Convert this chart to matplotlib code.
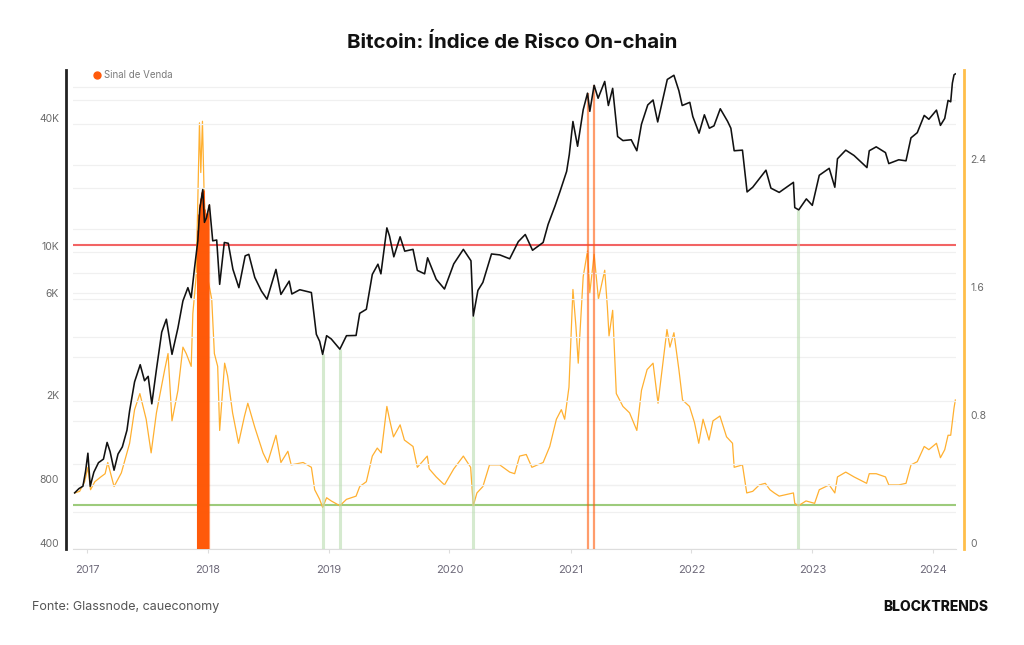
import numpy as np
import pandas as pd
import matplotlib
matplotlib.use('Agg')
import matplotlib.pyplot as plt
import matplotlib.dates as mdates
from matplotlib.lines import Line2D
from matplotlib.ticker import NullFormatter

plt.rcParams['font.family'] = ['Inter', 'DejaVu Sans']

# Bitcoin price (USD, log axis on the left)
price_dates = [
    '2016-11-25', '2016-12-08', '2016-12-20', '2016-12-28', '2017-01-04', '2017-01-11',
    '2017-01-22', '2017-02-05', '2017-02-20', '2017-03-03', '2017-03-12', '2017-03-24',
    '2017-04-05', '2017-04-18', '2017-05-02', '2017-05-10', '2017-05-25', '2017-06-11',
    '2017-06-24', '2017-07-05', '2017-07-16', '2017-07-30', '2017-08-15', '2017-08-29',
    '2017-09-15', '2017-10-03', '2017-10-18', '2017-11-02', '2017-11-12', '2017-11-22',
    '2017-12-02', '2017-12-08', '2017-12-17', '2017-12-22', '2017-12-28', '2018-01-06',
    '2018-01-16', '2018-01-28', '2018-02-06', '2018-02-20', '2018-03-04', '2018-03-18',
    '2018-04-05', '2018-04-24', '2018-05-05', '2018-05-23', '2018-06-12', '2018-06-29',
    '2018-07-26', '2018-08-10', '2018-09-04', '2018-09-12', '2018-10-06', '2018-11-10',
    '2018-11-25', '2018-12-05', '2018-12-14', '2018-12-26', '2019-01-09', '2019-02-04',
    '2019-02-24', '2019-03-25', '2019-04-05', '2019-04-25', '2019-05-13', '2019-05-30',
    '2019-06-08', '2019-06-26', '2019-07-04', '2019-07-17', '2019-08-05', '2019-08-19',
    '2019-09-13', '2019-09-26', '2019-10-18', '2019-10-27', '2019-11-22', '2019-12-17',
    '2020-01-14', '2020-02-12', '2020-03-06', '2020-03-13', '2020-03-27', '2020-04-11',
    '2020-05-07', '2020-06-01', '2020-07-01', '2020-07-27', '2020-08-17', '2020-09-08',
    '2020-10-10', '2020-10-25', '2020-11-15', '2020-11-30', '2020-12-20', '2020-12-28',
    '2021-01-08', '2021-01-22', '2021-02-08', '2021-02-21', '2021-02-28', '2021-03-13',
    '2021-03-25', '2021-04-14', '2021-04-25', '2021-05-08', '2021-05-23', '2021-06-08',
    '2021-07-03', '2021-07-20', '2021-08-03', '2021-08-22', '2021-09-07', '2021-09-21',
    '2021-10-20', '2021-11-09', '2021-11-24', '2021-12-04', '2021-12-27', '2022-01-05',
    '2022-01-24', '2022-02-09', '2022-02-24', '2022-03-10', '2022-03-29', '2022-04-20',
    '2022-04-30', '2022-05-10', '2022-06-04', '2022-06-18', '2022-07-05', '2022-08-14',
    '2022-08-29', '2022-09-23', '2022-11-05', '2022-11-09', '2022-11-21', '2022-12-14',
    '2023-01-01', '2023-01-22', '2023-02-21', '2023-03-10', '2023-03-18', '2023-04-12',
    '2023-05-07', '2023-06-15', '2023-06-22', '2023-07-13', '2023-08-10', '2023-08-20',
    '2023-09-19', '2023-10-11', '2023-10-26', '2023-11-14', '2023-12-05', '2023-12-19',
    '2024-01-11', '2024-01-23', '2024-02-05', '2024-02-15', '2024-02-23', '2024-02-28',
    '2024-03-04', '2024-03-08',
]
price_values = [
    735, 770, 790, 930, 1130, 790,
    920, 1020, 1060, 1270, 1150, 940,
    1120, 1210, 1450, 1790, 2450, 2950,
    2480, 2600, 1930, 2800, 4200, 4830,
    3300, 4400, 5890, 6800, 6100, 8400,
    11300, 16000, 19700, 13800, 14500, 16700,
    11300, 11400, 7050, 11100, 11000, 8300,
    6800, 9600, 9760, 7600, 6560, 6000,
    8290, 6320, 7300, 6350, 6650, 6450,
    4100, 3800, 3300, 4040, 3900, 3490,
    4040, 4050, 5150, 5380, 7850, 8770,
    7900, 13000, 11900, 9500, 11800, 10100,
    10300, 8200, 7900, 9400, 7450, 6700,
    8800, 10300, 9100, 5000, 6600, 7200,
    9800, 9700, 9300, 11200, 12100, 10200,
    11100, 13500, 16500, 19300, 24000, 28800,
    41200, 31500, 46800, 56000, 46000, 61000,
    53000, 63600, 49000, 59000, 35000, 33500,
    33800, 30000, 40000, 49300, 52000, 41000,
    65000, 68000, 57500, 49000, 50700, 43500,
    36300, 44300, 38300, 39300, 47300, 41300,
    38300, 30000, 30200, 19200, 20200, 24300,
    20000, 19100, 21300, 16200, 15800, 17800,
    16600, 23000, 24800, 20200, 27500, 30200,
    28500, 25000, 30000, 31300, 29400, 26100,
    27200, 26900, 34500, 36500, 44000, 42200,
    46600, 39500, 42600, 51800, 51000, 62400,
    68300, 69000,
]

# On-chain risk index (right axis)
risk_dates = [
    '2016-11-25', '2016-12-10', '2016-12-25', '2017-01-04', '2017-01-12', '2017-01-25',
    '2017-02-12', '2017-02-25', '2017-03-05', '2017-03-24', '2017-04-15', '2017-05-10',
    '2017-05-25', '2017-06-10', '2017-06-29', '2017-07-14', '2017-07-30', '2017-08-24',
    '2017-09-03', '2017-09-15', '2017-10-03', '2017-10-18', '2017-10-28', '2017-11-12',
    '2017-11-17', '2017-11-27', '2017-12-07', '2017-12-11', '2017-12-16', '2017-12-21',
    '2017-12-31', '2018-01-13', '2018-01-21', '2018-01-31', '2018-02-06', '2018-02-21',
    '2018-03-02', '2018-03-17', '2018-04-04', '2018-04-22', '2018-05-02', '2018-05-23',
    '2018-06-17', '2018-07-01', '2018-07-26', '2018-08-10', '2018-08-31', '2018-09-10',
    '2018-10-16', '2018-11-10', '2018-11-20', '2018-12-05', '2018-12-14', '2018-12-26',
    '2019-01-09', '2019-02-04', '2019-02-24', '2019-03-25', '2019-04-05', '2019-04-25',
    '2019-05-13', '2019-05-28', '2019-06-09', '2019-06-26', '2019-07-04', '2019-07-16',
    '2019-08-05', '2019-08-18', '2019-09-13', '2019-09-26', '2019-10-26', '2019-11-01',
    '2019-11-22', '2019-12-17', '2020-01-14', '2020-02-12', '2020-03-05', '2020-03-13',
    '2020-03-24', '2020-04-11', '2020-05-01', '2020-06-01', '2020-07-01', '2020-07-16',
    '2020-07-31', '2020-08-20', '2020-09-06', '2020-10-10', '2020-10-30', '2020-11-19',
    '2020-12-04', '2020-12-14', '2020-12-27', '2021-01-08', '2021-01-17', '2021-01-24',
    '2021-02-08', '2021-02-21', '2021-02-28', '2021-03-13', '2021-03-26', '2021-04-14',
    '2021-04-22', '2021-04-27', '2021-05-08', '2021-05-19', '2021-06-08', '2021-06-28',
    '2021-07-20', '2021-08-03', '2021-08-20', '2021-09-07', '2021-09-22', '2021-10-19',
    '2021-10-28', '2021-11-09', '2021-11-24', '2021-12-05', '2021-12-26', '2022-01-10',
    '2022-01-23', '2022-02-05', '2022-02-23', '2022-03-07', '2022-03-28', '2022-04-17',
    '2022-05-05', '2022-05-10', '2022-06-04', '2022-06-17', '2022-07-05', '2022-07-25',
    '2022-08-12', '2022-08-26', '2022-09-08', '2022-09-23', '2022-11-05', '2022-11-09',
    '2022-11-20', '2022-12-13', '2023-01-08', '2023-01-22', '2023-02-21', '2023-03-10',
    '2023-03-18', '2023-04-12', '2023-05-07', '2023-06-14', '2023-06-22', '2023-07-13',
    '2023-08-10', '2023-08-20', '2023-09-19', '2023-10-11', '2023-10-26', '2023-11-14',
    '2023-12-05', '2023-12-19', '2024-01-11', '2024-01-23', '2024-02-05', '2024-02-15',
    '2024-02-23', '2024-03-04', '2024-03-08',
]
risk_values = [
    0.35, 0.36, 0.42, 0.51, 0.37, 0.42,
    0.45, 0.47, 0.54, 0.39, 0.475, 0.66,
    0.87, 0.97, 0.81, 0.60, 0.85, 1.12,
    1.22, 0.80, 0.99, 1.26, 1.22, 1.14,
    1.47, 1.70, 2.66, 2.35, 2.67, 2.22,
    1.70, 1.56, 1.22, 1.14, 0.74, 1.16,
    1.08, 0.85, 0.66, 0.83, 0.91, 0.76,
    0.60, 0.54, 0.71, 0.54, 0.61, 0.525,
    0.54, 0.51, 0.37, 0.31, 0.26, 0.32,
    0.30, 0.27, 0.31, 0.33, 0.39, 0.42,
    0.58, 0.63, 0.60, 0.89, 0.81, 0.70,
    0.775, 0.68, 0.64, 0.51, 0.58, 0.50,
    0.45, 0.40, 0.50, 0.58, 0.51, 0.27,
    0.35, 0.39, 0.525, 0.525, 0.48, 0.47,
    0.58, 0.59, 0.51, 0.54, 0.64, 0.81,
    0.87, 0.81, 1.01, 1.62, 1.39, 1.16,
    1.70, 1.86, 1.60, 1.84, 1.56, 1.74,
    1.51, 1.33, 1.49, 0.97, 0.89, 0.85,
    0.74, 0.99, 1.12, 1.16, 0.91, 1.37,
    1.26, 1.35, 1.12, 0.93, 0.89, 0.79,
    0.66, 0.81, 0.68, 0.80, 0.83, 0.70,
    0.66, 0.51, 0.525, 0.35, 0.36, 0.40,
    0.41, 0.37, 0.35, 0.33, 0.35, 0.285,
    0.27, 0.30, 0.285, 0.37, 0.40, 0.35,
    0.45, 0.48, 0.45, 0.41, 0.47, 0.47,
    0.45, 0.40, 0.40, 0.41, 0.525, 0.545,
    0.64, 0.62, 0.66, 0.57, 0.62, 0.71,
    0.71, 0.88, 0.93,
]

SELL_LEVEL = 1.9
BUY_LEVEL = 0.275
sell_window = ('2017-12-03', '2017-12-31')
sell_days = ['2018-01-06', '2021-02-21', '2021-03-13']
buy_days = ['2018-12-14', '2019-02-04', '2020-03-13', '2022-11-20']

year_ticks = ['2017', '2018', '2019', '2020', '2021', '2022', '2023', '2024']
price_ticks = [400, 800, 2000, 6000, 10000, 40000]
price_tick_labels = ['400', '800', '2K', '6K', '10K', '40K']
price_grid = [600, 1000, 4000, 8000, 20000, 60000]
risk_ticks = [0, 0.8, 1.6, 2.4]
risk_grid = [0.4, 1.2, 2.0, 2.8]

ORANGE = '#FFB030'
SIGNAL = '#FF5A0A'

p_dates = pd.to_datetime(price_dates)
r_dates = pd.to_datetime(risk_dates)


def price_at(days):
    """Price level (log interpolated) used as the top of each signal bar."""
    d = mdates.date2num(pd.to_datetime(days))
    return 10 ** np.interp(d, mdates.date2num(p_dates), np.log10(price_values))


fig = plt.figure(figsize=(10.24, 6.45), dpi=100)
ax_r = fig.add_axes([73 / 1024, 1 - 549 / 645, (956 - 73) / 1024, (549 - 70) / 645])
ax_p = ax_r.twinx()

# risk index, thresholds and the right axis
ax_r.plot(r_dates, risk_values, color=ORANGE, lw=0.9, zorder=3)
ax_r.axhline(SELL_LEVEL, color='#F26464', lw=1.5, zorder=2)
ax_r.axhline(BUY_LEVEL, color='#9DCB7C', lw=1.5, zorder=2)
ax_r.set_ylim(0, 2.99)
ax_r.yaxis.tick_right()
ax_r.set_yticks(risk_ticks)
ax_r.set_yticklabels(['0', '0.8', '1.6', '2.4'])
ax_r.set_yticks(risk_grid, minor=True)
ax_r.grid(axis='y', which='both', color='#F0F0F0', lw=0.9)
ax_r.tick_params(axis='y', which='both', length=0, pad=4.5, labelsize=7.5, labelcolor='#6B6B6B')

ax_r.set_xlim(pd.Timestamp('2016-11-20'), pd.Timestamp('2024-03-10'))
ax_r.set_xticks(pd.to_datetime([y + '-01-01' for y in year_ticks]))
ax_r.set_xticklabels(year_ticks)
ax_r.tick_params(axis='x', length=3, width=0.8, color='#DDDDDD', pad=8.5, labelsize=8, labelcolor='#6E6A7A')

for side in ['top', 'left']:
    ax_r.spines[side].set_visible(False)
ax_r.spines['bottom'].set_color('#DDDDDD')
ax_r.spines['right'].set_color('#FFBE4A')
ax_r.spines['right'].set_linewidth(2)
ax_r.spines['right'].set_position(('outward', 6))

# price, signal bars and the left axis
win = pd.date_range(sell_window[0], sell_window[1], freq='D')
ax_p.vlines(win, 400, price_at(win), color=SIGNAL, lw=2.2, alpha=0.9, zorder=2)
ax_p.vlines(pd.to_datetime(sell_days), 400, price_at(sell_days), color=SIGNAL, lw=1.6, alpha=0.6, zorder=2)
ax_p.vlines(pd.to_datetime(buy_days), 400, price_at(buy_days), color='#B9DDB0', lw=2.2, alpha=0.6, zorder=2)
ax_p.plot(p_dates, price_values, color='#111111', lw=1.15, zorder=4)

ax_p.set_yscale('log')
ax_p.set_ylim(400, 72000)
ax_p.yaxis.tick_left()
ax_p.set_yticks(price_ticks)
ax_p.set_yticklabels(price_tick_labels)
ax_p.set_yticks(price_grid, minor=True)
ax_p.yaxis.set_minor_formatter(NullFormatter())
ax_p.grid(axis='y', which='both', color='#F0F0F0', lw=0.9, zorder=0)
ax_p.tick_params(axis='y', which='both', length=0, pad=5, labelsize=7.5, labelcolor='#6B6B6B')

for side in ['top', 'right', 'bottom']:
    ax_p.spines[side].set_visible(False)
ax_p.spines['left'].set_color('#222222')
ax_p.spines['left'].set_linewidth(2)
ax_p.spines['left'].set_position(('outward', 5))

# labels sit just above their gridlines
for lab in ax_p.get_yticklabels() + ax_r.get_yticklabels():
    lab.set_verticalalignment('bottom')

handle = Line2D([], [], marker='o', ls='none', color=SIGNAL, markersize=5)
fig.legend([handle], ['Sinal de Venda'], loc='center left', bbox_to_anchor=(93 / 1024, 1 - 75 / 645),
           frameon=False, fontsize=7, handletextpad=0.3, handlelength=0.8, borderpad=0,
           borderaxespad=0, labelcolor='#7A7A7A')

fig.text(0.5, 1 - 42 / 645, 'Bitcoin: Índice de Risco On-chain', ha='center', va='center',
         fontsize=14.8, fontweight='bold', color='#111111')
fig.text(32 / 1024, 1 - 607 / 645, 'Fonte: Glassnode, caueconomy', ha='left', va='center',
         fontsize=9, color='#555555')
fig.text(988 / 1024, 1 - 607 / 645, 'BLOCKTRENDS', ha='right', va='center',
         fontsize=10, fontweight='heavy', color='#111111')

fig.savefig('out.png', dpi=100)
